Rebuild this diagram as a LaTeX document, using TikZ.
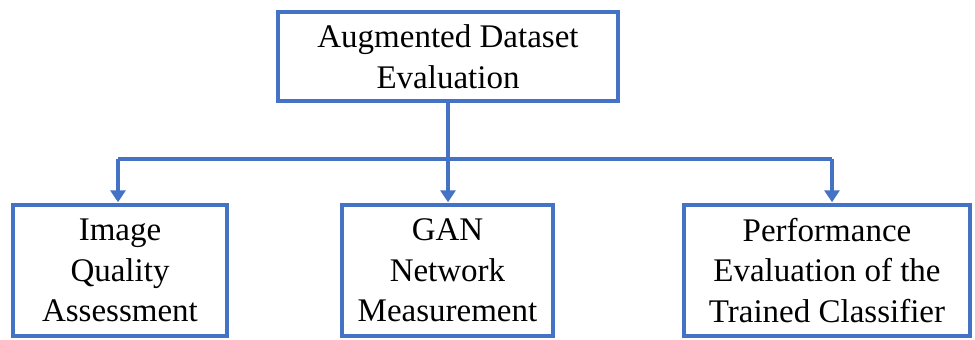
\documentclass[tikz,border=0pt]{standalone}
\usepackage{fontspec}
\setmainfont{Liberation Serif}
\usepackage{tikz}
\usetikzlibrary{arrows.meta,positioning}
\definecolor{boxblue}{HTML}{4472C4}

\tikzset{
	box/.style={draw=boxblue, line width=3.5pt, fill=white, align=center, inner sep=0pt,
		font=\fontsize{33}{40.5}\selectfont},
	link/.style={draw=boxblue, line width=3.5pt},
	arrow/.style={link, -{Triangle[width=15pt,length=12pt]}, shorten >=1pt}
}

\begin{document}
\begin{tikzpicture}[x=1pt, y=-1pt]
	\useasboundingbox (0,0) rectangle (975,340);
	% Define nodes
	\node[box, minimum width=340pt, minimum height=89pt] (eval) at (448,56.5) {Augmented Dataset\\Evaluation};
	\node[box, minimum width=214pt, minimum height=131pt] (iqa)  at (120,270.5) {Image\\Quality\\Assessment};
	\node[box, minimum width=211pt, minimum height=131pt] (gan)  at (447.5,270.5) {GAN\\Network\\Measurement};
	\node[box, minimum width=286pt, minimum height=131pt] (perf) at (827,270.5) {Performance\\Evaluation of the\\Trained Classifier};

	\coordinate (busl) at (118,159);
	\coordinate (busr) at (832,159);

	% Edges
	\draw[link] (busl) -- (busr);
	\draw[arrow] (eval.south) -- (eval.south |- gan.north);
	\draw[arrow] (busl) -- (busl |- iqa.north);
	\draw[arrow] (busr) -- (busr |- perf.north);
\end{tikzpicture}
\end{document}
